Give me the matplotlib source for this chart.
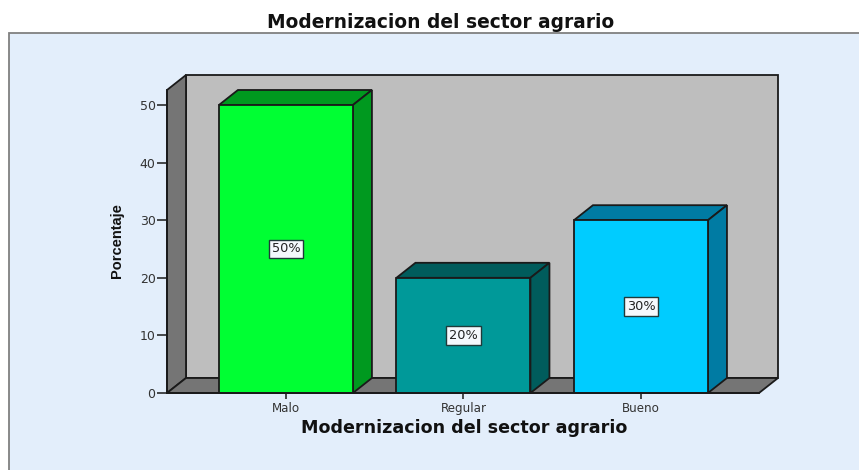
import matplotlib
matplotlib.use('Agg')
from matplotlib import pyplot as plt
from matplotlib.patches import Polygon, Rectangle

categories = ['Malo', 'Regular', 'Bueno']
porcentaje = [50, 20, 30]
etiquetas = ['50%', '20%', '30%']
frente = ['#00FF33', '#009999', '#00CCFF']
lateral = ['#00991F', '#005C5C', '#007BA3']
titulo = 'Modernizacion del sector agrario'

W, H = 859, 470
fig = plt.figure(figsize=(W / 100, H / 100), dpi=100, facecolor='white')

# panel azul de fondo
fig.add_artist(Rectangle((9 / W, -0.01), 1, (H - 33) / H + 0.01, transform=fig.transFigure,
                         facecolor='#E3EEFB', edgecolor='#808080', linewidth=1.3, zorder=-1))

ax = fig.add_axes([167 / W, (H - 393) / H, 592 / W, 303 / H])
ax.patch.set_visible(False)
ax.set_xlim(-0.67, 2.665)
ax.set_ylim(0, 303 / 5.76)

# profundidad 3D en unidades de datos
dx = 19 / 177.5
dy = 15 / 5.76
x0, x1 = ax.get_xlim()
y0, y1 = ax.get_ylim()
negro = '#1A1A1A'

def caja(puntos, color, z=1, lw=1.3):
    ax.add_patch(Polygon(puntos, closed=True, facecolor=color, edgecolor=negro,
                         linewidth=lw, clip_on=False, zorder=z, joinstyle='miter'))

# paredes y piso
caja([(x0 + dx, y0 + dy), (x1 + dx, y0 + dy), (x1 + dx, y1 + dy), (x0 + dx, y1 + dy)], '#BEBEBE')
caja([(x0, y0), (x0 + dx, y0 + dy), (x0 + dx, y1 + dy), (x0, y1)], '#757575')
caja([(x0, y0), (x1, y0), (x1 + dx, y0 + dy), (x0 + dx, y0 + dy)], '#757575')

# barras
ancho = 134 / 177.5
for i, v in enumerate(porcentaje):
    a, b = i - ancho / 2, i + ancho / 2
    caja([(a, v), (b, v), (b + dx, v + dy), (a + dx, v + dy)], lateral[i], 3)
    caja([(b, 0), (b + dx, dy), (b + dx, v + dy), (b, v)], lateral[i], 3)
    ax.bar(i, v, ancho, color=frente[i], edgecolor=negro, linewidth=1.3, zorder=4, clip_on=False)
    ax.text(i, v / 2, etiquetas[i], ha='center', va='center', fontsize=9.3, color='#222222',
            family='DejaVu Sans', zorder=6,
            bbox=dict(boxstyle='square,pad=0.22', facecolor='#F4F8FC', edgecolor='#1F3A3A', linewidth=1))

for s in ['top', 'right']:
    ax.spines[s].set_visible(False)
for s in ['left', 'bottom']:
    ax.spines[s].set_color(negro)
    ax.spines[s].set_linewidth(1.3)
    ax.spines[s].set_zorder(5)

ax.set_xticks(range(len(categories)))
ax.set_xticklabels(categories, family='DejaVu Sans', fontsize=8.6, color='#333333')
ax.set_yticks([0, 10, 20, 30, 40, 50])
ax.tick_params(axis='x', length=4.3, width=1.1, pad=2, color=negro)
ax.tick_params(axis='y', length=7.2, width=1.1, pad=1, color=negro, labelsize=9, labelcolor='#333333')

fig.text(441 / W, 1 - 22 / H, titulo, ha='center', va='center', fontsize=13.4,
         fontweight='bold', color='#111111', family='DejaVu Sans')
fig.text(464 / W, 1 - 428 / H, titulo, ha='center', va='center', fontsize=12.6,
         fontweight='bold', color='#111111', family='DejaVu Sans')
fig.text(117 / W, 1 - 241 / H, 'Porcentaje', ha='center', va='center', rotation=90,
         fontsize=10.5, fontweight='bold', color='#111111', family='Liberation Sans')

fig.savefig('out.png', dpi=100, facecolor=fig.get_facecolor())
